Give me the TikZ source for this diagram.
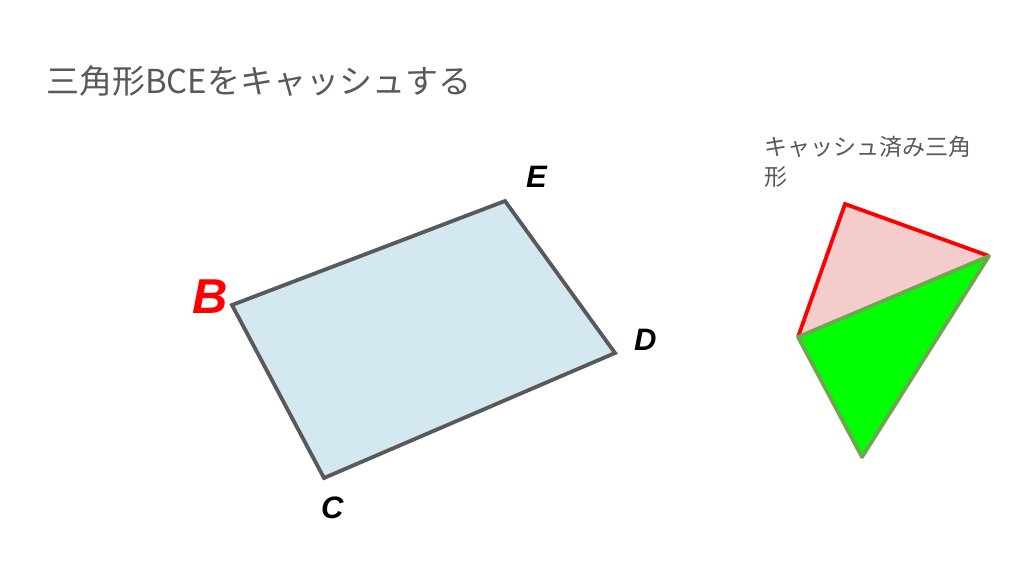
\documentclass[tikz,border=0pt]{standalone}
\usepackage{fontspec}
\setmainfont{Liberation Sans}
\newfontfamily\cjk{Noto Sans CJK JP}
\definecolor{txtgray}{HTML}{595959}
\definecolor{quadfill}{HTML}{D4E8F2}
\definecolor{pinkfill}{HTML}{F4CCCC}
\definecolor{greenline}{HTML}{6AA84F}
\begin{document}
\begin{tikzpicture}[x=1pt,y=-1pt,
  title/.style={anchor=base west,inner sep=0pt,text=txtgray,font=\cjk\fontsize{33}{38}\selectfont},
  note/.style={anchor=base west,inner sep=0pt,text=txtgray,align=left,font=\cjk\fontsize{23}{30}\selectfont},
  vlabel/.style={anchor=base west,inner sep=0pt,font=\bfseries\itshape\fontsize{31}{36}\selectfont},
  quad/.style={draw=txtgray,line width=3.8pt,fill=quadfill,line join=miter},
]
\useasboundingbox (0,0) rectangle (1024,576);
\fill[white] (0,0) rectangle (1024,576);
% title
\node[title] (ttl) at (46,93) {三角形BCEをキャッシュする};
% quadrilateral
\coordinate (B) at (232,305);
\coordinate (E) at (505,201);
\coordinate (D) at (615,353);
\coordinate (C) at (324,478);
\draw[quad] (B) -- (E) -- (D) -- (C) -- cycle;
\node[vlabel,text=red,font=\bfseries\itshape\fontsize{49}{56}\selectfont] (lB) at (192,313) {B};
\node[vlabel] (lE) at (526,187) {E};
\node[vlabel] (lD) at (634,350) {D};
\node[vlabel] (lC) at (321,518) {C};
% cached triangles
\node[note] (nt) at (764,185) {キャッシュ済み三角\\形};
\coordinate (T) at (845,204);
\coordinate (R) at (989,256);
\coordinate (L) at (798,337);
\coordinate (Bt) at (862,457);
\fill[pinkfill] (T) -- (R) -- (L) -- cycle;
\draw[red,line width=3.8pt,line join=miter] (L) -- (T) -- (R);
\draw[greenline,line width=3.8pt,fill=green,line join=round] (L) -- (R) -- (Bt) -- cycle;
\end{tikzpicture}
\end{document}
